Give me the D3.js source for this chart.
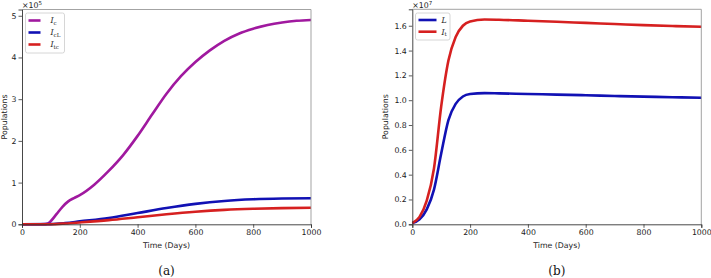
<!DOCTYPE html>
<html><head><meta charset="utf-8">
<script src="https://cdn.jsdelivr.net/npm/d3@7"></script>
<style>
html,body{margin:0;padding:0;background:#fff;}
svg{display:block;}
</style></head>
<body>
<svg id="c" width="711" height="278"></svg>
<script>
// ---- Data (a): values in units of 1e5 ----
const timeA = [0,50,80,90,100,120,140,160,180,200,250,300,350,400,450,500,550,600,650,700,750,800,850,900,950,1000];
const Ic    = [0,0,0.005,0.02,0.08,0.25,0.42,0.55,0.63,0.7,0.95,1.28,1.66,2.12,2.63,3.13,3.55,3.89,4.17,4.4,4.57,4.69,4.78,4.84,4.88,4.9];
const timeA2 = [0,100,150,200,300,400,500,600,700,800,900,1000];
const IcL   = [0,0.005,0.03,0.07,0.15,0.27,0.39,0.49,0.56,0.6,0.618,0.625];
const Itc   = [0,0.003,0.02,0.045,0.1,0.17,0.24,0.3,0.345,0.372,0.387,0.395];
// ---- Data (b): values in units of 1e7 ----
const timeB = [0,25,50,75,100,125,150,175,200,250,300,400,500,600,700,800,900,1000];
const Lpop  = [0.01,0.04,0.12,0.28,0.57,0.84,0.97,1.03,1.05,1.057,1.055,1.05,1.045,1.04,1.034,1.029,1.024,1.02];
const It    = [0.01,0.06,0.19,0.45,0.95,1.32,1.51,1.6,1.635,1.65,1.648,1.64,1.632,1.623,1.614,1.605,1.598,1.592];
const xTicks = [0,200,400,600,800,1000];
const yTicksA = [0,1,2,3,4,5];
const yTicksB = [0,0.2,0.4,0.6,0.8,1.0,1.2,1.4,1.6];

const colPurple = "#a0199f", colBlue = "#1111b4", colRed = "#d62020";
const svg = d3.select("#c");
const sans = "DejaVu Sans, sans-serif";
const serif = "DejaVu Serif, serif";

function panel(opts){
  const {x0,x1,y0,y1,ymax,yTicks,yFmt,series,legend,legendBox,expo,ylabX,caption} = opts;
  const x = d3.scaleLinear().domain([0,1000]).range([x0,x1]);
  const y = d3.scaleLinear().domain([0,ymax]).range([y1,y0]);
  const g = svg.append("g");
  // lines
  const line = d3.line().curve(d3.curveMonotoneX);
  series.forEach(s=>{
    g.append("path").attr("d", line(s.t.map((t,i)=>[x(t), y(s.v[i])])))
     .attr("fill","none").attr("stroke",s.c).attr("stroke-width",2.6);
  });
  // spines
  g.append("line").attr("x1",x0).attr("x2",x1).attr("y1",y0).attr("y2",y0).attr("stroke","#999").attr("stroke-width",0.9);
  g.append("line").attr("x1",x1).attr("x2",x1).attr("y1",y0).attr("y2",y1).attr("stroke","#999").attr("stroke-width",0.9);
  // axes
  const xa = g.append("g").attr("transform",`translate(0,${y1})`)
    .call(d3.axisBottom(x).tickValues(xTicks).tickSize(3.5).tickPadding(2).tickFormat(d3.format("d")));
  const ya = g.append("g").attr("transform",`translate(${x0},0)`)
    .call(d3.axisLeft(y).tickValues(yTicks).tickSize(3.5).tickPadding(2).tickFormat(yFmt));
  [xa,ya].forEach(a=>{
    a.select(".domain").attr("stroke","#333").attr("stroke-width",0.9);
    a.selectAll(".tick line").attr("stroke","#333").attr("stroke-width",0.8);
    a.selectAll("text").attr("font-family",sans).attr("font-size",7.8).attr("fill","#222");
  });
  // exponent
  const ex = g.append("text").attr("x",x0).attr("y",8).attr("font-family",sans).attr("font-size",7.8).attr("fill","#222");
  ex.append("tspan").text("×10");
  ex.append("tspan").attr("dy",-3).attr("font-size",5.5).text(expo);
  // axis labels
  g.append("text").attr("x",(x0+x1)/2).attr("y",248).attr("text-anchor","middle")
    .attr("font-family",sans).attr("font-size",7.8).attr("fill","#222").text("Time (Days)");
  g.append("text").attr("transform",`translate(${ylabX},${(y0+y1)/2}) rotate(-90)`).attr("text-anchor","middle")
    .attr("font-family",sans).attr("font-size",7.8).attr("fill","#222").text("Populations");
  // caption
  g.append("text").attr("x",(x0+x1)/2).attr("y",275).attr("text-anchor","middle")
    .attr("font-family",serif).attr("font-size",12).attr("fill","#111").text(caption);
  // legend
  const lb = legendBox;
  g.append("rect").attr("x",lb.x).attr("y",lb.y).attr("width",lb.w).attr("height",lb.h).attr("rx",2)
    .attr("fill","#fff").attr("fill-opacity",0.85).attr("stroke","#ccc").attr("stroke-width",0.8);
  legend.forEach((L,i)=>{
    const yy = lb.y + lb.first + i*lb.step;
    g.append("line").attr("x1",lb.x+3).attr("x2",lb.x+3+lb.len).attr("y1",yy).attr("y2",yy)
      .attr("stroke",L.c).attr("stroke-width",2.6);
    const t = g.append("text").attr("x",lb.x+lb.tx).attr("y",yy+2.8).attr("font-family",serif)
      .attr("font-size",7.8).attr("fill","#222");
    t.append("tspan").attr("font-style","italic").text(L.main);
    if(L.sub) t.append("tspan").attr("font-size",5.5).attr("dy",1.8).text(L.sub);
  });
}

panel({x0:22,x1:311,y0:9.5,y1:224.3,ymax:5.15,yTicks:yTicksA,yFmt:d3.format("d"),
  series:[{t:timeA,v:Ic,c:colPurple},{t:timeA2,v:IcL,c:colBlue},{t:timeA2,v:Itc,c:colRed}],
  legend:[{main:"I",sub:"c",c:colPurple},{main:"I",sub:"cL",c:colBlue},{main:"I",sub:"tc",c:colRed}],
  legendBox:{x:25.5,y:13,w:39,h:40,first:7.5,step:12,len:12,tx:25},
  expo:"5",ylabX:7,caption:"(a)"});

panel({x0:412.3,x1:701.3,y0:9.3,y1:224.3,ymax:1.7325,yTicks:yTicksB,yFmt:d3.format(".1f"),
  series:[{t:timeB,v:Lpop,c:colBlue},{t:timeB,v:It,c:colRed}],
  legend:[{main:"L",c:colBlue},{main:"I",sub:"t",c:colRed}],
  legendBox:{x:415.5,y:13,w:34.5,h:27,first:7,step:11.7,len:18,tx:26},
  expo:"7",ylabX:388,caption:"(b)"});
</script>
</body></html>
